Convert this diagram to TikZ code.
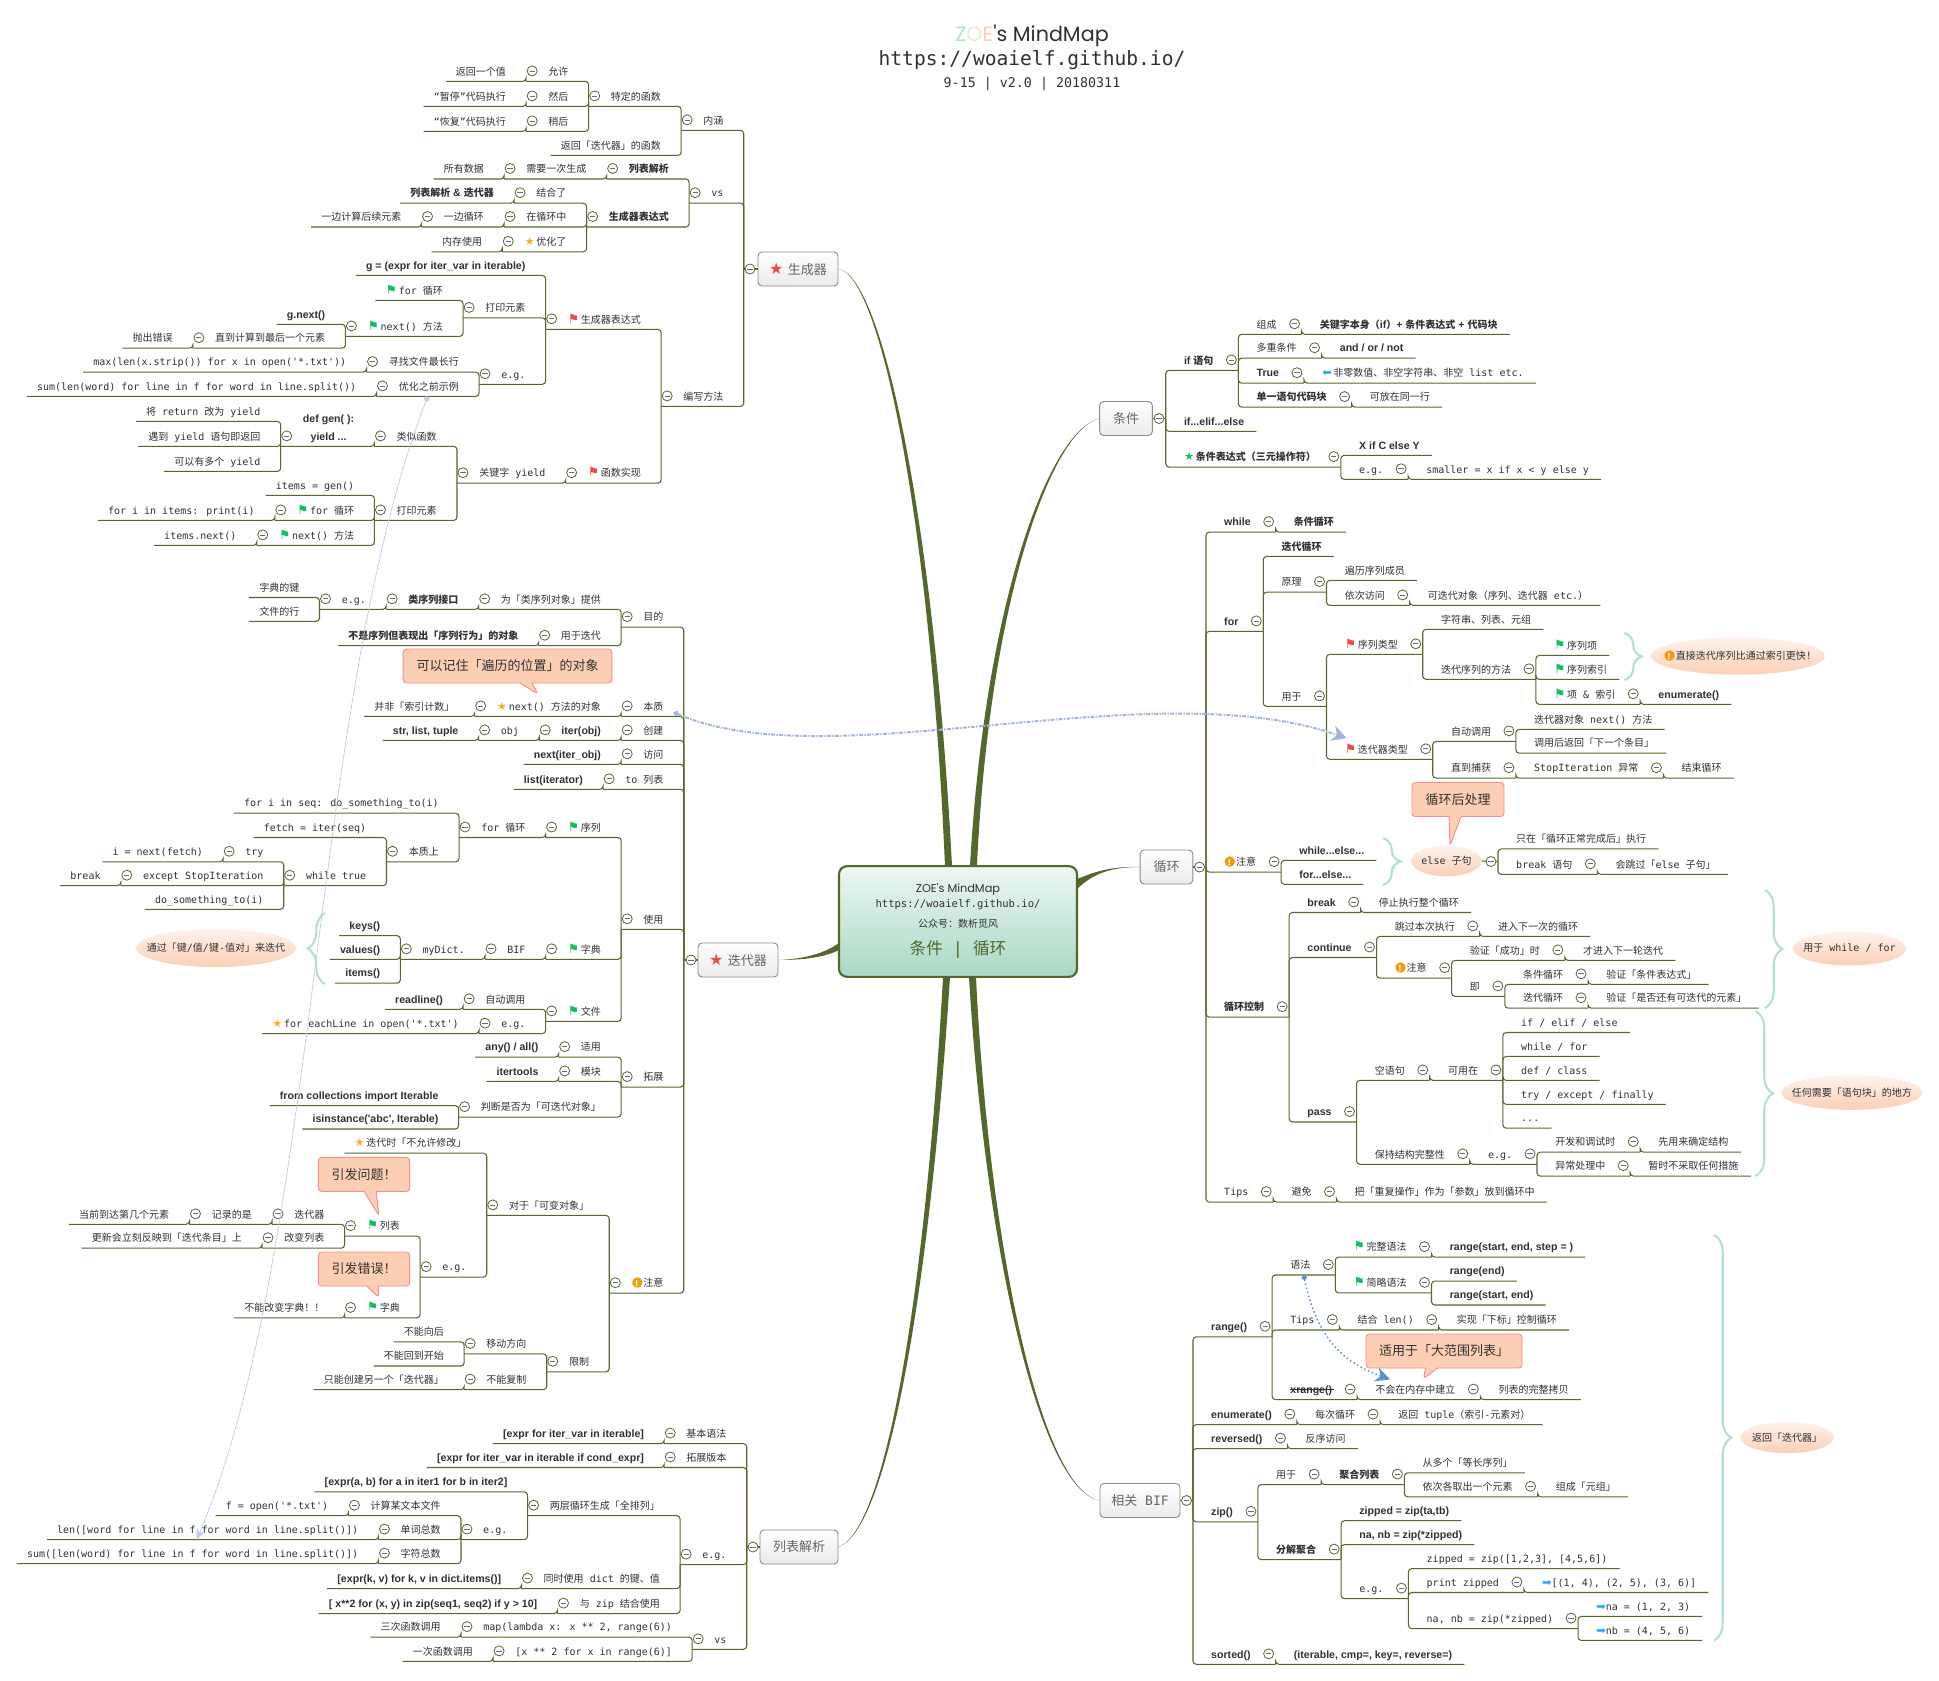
\documentclass[tikz,border=0pt]{standalone}
\usepackage{fontspec}
\usetikzlibrary{calc,shapes.geometric,shapes.callouts,arrows.meta,decorations.pathreplacing}
\setmainfont{DejaVu Sans Mono}[BoldFont={Liberation Sans/B},BoldFeatures={Scale=1.06}]
\newfontfamily\cjkf{Noto Sans CJK SC}
\newfontfamily\symf{DejaVu Sans}
\newfontfamily\titlef{Poppins}
% CJK characters switch font by themselves
\chardef\cjkcl=7
\newcount\chcnt
\chcnt="21 \loop \XeTeXcharclass\chcnt=0 \advance\chcnt by 1 \ifnum\chcnt<"3000 \repeat
\chcnt="3000 \loop \XeTeXcharclass\chcnt=\cjkcl \advance\chcnt by 1 \ifnum\chcnt<"A000 \repeat
\chcnt="FF00 \loop \XeTeXcharclass\chcnt=\cjkcl \advance\chcnt by 1 \ifnum\chcnt<"FFF0 \repeat
\XeTeXinterchartoks 0 \cjkcl = {\cjkf}
\XeTeXinterchartoks 4095 \cjkcl = {\cjkf}
\XeTeXinterchartoks \cjkcl 0 = {\rmfamily}
\XeTeXinterchartoks \cjkcl 4095 = {\rmfamily}
\XeTeXinterchartokenstate=1

\definecolor{linegreen}{HTML}{55682B}
\definecolor{textgray}{HTML}{303030}
\definecolor{flaggreen}{HTML}{10C060}
\definecolor{flagred}{HTML}{F04848}
\definecolor{starorange}{HTML}{F8B030}
\definecolor{warnorange}{HTML}{F59A10}
\definecolor{arrowblue}{HTML}{20AEF0}
\definecolor{bracegreen}{HTML}{B4E0D0}
\definecolor{titlepale}{HTML}{E2EFCF}
\definecolor{peach}{HTML}{FCCFB4}
\definecolor{peachline}{HTML}{F09090}
\definecolor{rootgreen}{HTML}{A8D8C4}
\definecolor{relpale}{HTML}{A3B5DA}
\definecolor{relthin}{HTML}{C0CAE8}
\definecolor{relblue}{HTML}{5A8FD0}

\newcommand{\flagG}{{\color{flaggreen}\symf\fontsize{9.5}{10}\selectfont ⚑}\,}
\newcommand{\flagR}{{\color{flagred}\symf\fontsize{9.5}{10}\selectfont ⚑}\,}
\newcommand{\starO}{{\color{starorange}\symf\fontsize{8.5}{10}\selectfont ★}\,}
\newcommand{\starG}{{\color{flaggreen}\symf\fontsize{8.5}{10}\selectfont ★}\,}
\newcommand{\starR}{{\color{flagred}\symf\fontsize{12}{12}\selectfont ★}\,\,}
\newcommand{\arrR}{{\color{arrowblue}\symf\fontsize{8.5}{9}\selectfont ➡}}
\newcommand{\arrL}{{\color{arrowblue}\symf\fontsize{8.5}{9}\selectfont ⬅}\,}
\newcommand{\warnicon}{{\symf\fontsize{10}{10}\selectfont\rlap{\color{warnorange}●}\makebox[.77em]{\fontsize{6}{6}\selectfont\color{white}\bfseries !}}\,}
\newcommand{\sumtext}[1]{\makebox[0pt][c]{#1}}

\tikzset{
  topic/.style={inner sep=0pt,text height=6.5pt,text depth=4.5pt,text=textgray,font=\fontsize{7.5}{9}\selectfont},
  treelink/.style={draw=linegreen,line width=0.8pt,rounded corners=2.5pt},
  foldmark/.style={circle,draw=linegreen,fill=white,line width=0.6pt,inner sep=0pt,minimum size=7.5pt,
    path picture={\draw[draw=gray!80!blue,line width=0.6pt] ([xshift=1.8pt]path picture bounding box.west) -- ([xshift=-1.8pt]path picture bounding box.east);}},
  trunk/.style={inner sep=0pt,minimum size=0pt},
  branchbox/.style={rectangle,rounded corners=3pt,draw=black!45,line width=0.7pt,top color=white,bottom color=black!8,
    text=black!60,minimum height=25.5pt,inner sep=0pt,font=\fontsize{9.75}{11}\selectfont},
  rootbox/.style={rectangle,rounded corners=6pt,draw=linegreen,line width=1.6pt,top color=rootgreen!20,bottom color=rootgreen,
    minimum width=178.5pt,minimum height=83pt,inner sep=0pt,align=center,text=textgray},
  summary/.style={ellipse,inner sep=0pt,top color=peach!25,bottom color=peach,text=textgray,font=\fontsize{7.5}{9}\selectfont},
  sumbrace/.style={draw=bracegreen,line width=1.6pt,decorate,decoration={brace,amplitude=13pt}},
  note/.style={rectangle callout,rounded corners=2.5pt,draw=peachline,fill=peach,line width=0.7pt,inner sep=0pt,minimum height=25.5pt,
    callout pointer width=9pt,text=textgray,font=\fontsize{9.75}{11}\selectfont},
  rootline/.style={fill=linegreen},
  relink/.style={draw=relpale,line width=1.5pt,dash pattern={on 3pt off 1pt on 1pt off 1pt}},
}

% topics that grow to the left, with or without children
\newcommand{\lfork}[5][]{%
  \node[topic,anchor=south east,#1] (#2) at (#3.south west |- 0,#4) {\hspace*{16.5pt}#5\hspace*{15pt}};
  \node[foldmark] (#2-f) at ($(#2.south west)+(6,-10.5)$) {};
  \draw[treelink] (#2.south west) -- (#2.south east) -- (#3.south west);}
\newcommand{\lleaf}[5][]{%
  \node[topic,anchor=south east,#1] (#2) at (#3.south west |- 0,#4) {\hspace*{7.5pt}#5\hspace*{15pt}};
  \draw[treelink] (#2.south west) -- (#2.south east) -- (#3.south west);}
% topics that grow to the right
\newcommand{\rfork}[5][]{%
  \node[topic,anchor=south west,#1] (#2) at (#3.south east |- 0,#4) {\hspace*{13.5pt}#5\hspace*{18.5pt}};
  \node[foldmark] (#2-f) at ($(#2.south east)+(-7,-10.5)$) {};
  \draw[treelink] (#2.south east) -- (#2.south west) -- (#3.south east);}
\newcommand{\rleaf}[5][]{%
  \node[topic,anchor=south west,#1] (#2) at (#3.south east |- 0,#4) {\hspace*{13.5pt}#5\hspace*{9pt}};
  \draw[treelink] (#2.south east) -- (#2.south west) -- (#3.south east);}

\begin{document}
\begin{tikzpicture}[x=0.75pt,y=0.75pt,yscale=-1,xscale=1]
\useasboundingbox (0,0) rectangle (1939,1681);

% Text Node
\node[text=textgray,font=\titlef\fontsize{15.5}{18}\selectfont] (title1) at (1032,35.5) {{\color{bracegreen}Z}{\color{titlepale}O}{\color{peach}E}'s MindMap};
\node[text=textgray,font=\fontsize{14.7}{18}\selectfont] (title2) at (1032,60.5) {https://woaielf.github.io/};
\node[text=textgray,font=\fontsize{10}{12}\selectfont] (title3) at (1032,83.5) {9-15 | v2.0 | 20180311};

%Shape: Rectangle
\node[rootbox] (root) at (958,921.5) {};
\node[text=textgray,font=\titlef\fontsize{8.5}{10}\selectfont] (root1) at (958,889) {ZOE's MindMap};
\node[text=textgray,font=\fontsize{7.9}{10}\selectfont] (root2) at (958,905) {https://woaielf.github.io/};
\node[text=textgray,font=\fontsize{7.5}{10}\selectfont] (root3) at (958,924) {公众号：数析觅风};
\node[text=linegreen,font=\fontsize{12.5}{15}\selectfont] (root4) at (958,949) {条件 | 循环};

\node[branchbox,minimum width=60pt] (gen) at (798,269) {\starR 生成器};
\node[branchbox,minimum width=60pt] (iter) at (738,960) {\starR 迭代器};
\node[branchbox,minimum width=58.5pt] (lcomp) at (799,1547) {列表解析};
\node[branchbox,minimum width=39.5pt] (cond) at (1126,418.5) {条件};
\node[branchbox,minimum width=39.5pt] (loop) at (1166.5,867) {循环};
\node[branchbox,minimum width=60pt] (bif) at (1140,1500.5) {相关 BIF};

%Straight Lines
\fill[rootline] (gen.east) .. controls (880,275) and (930,520) .. (945,866) -- (952,866) .. controls (934,520) and (882,275) .. (gen.east) -- cycle;
\fill[rootline] (iter.east) .. controls (805,959) and (825,953) .. (839,943) -- (839,950) .. controls (825,957) and (805,960) .. (iter.east) -- cycle;
\fill[rootline] (lcomp.east) .. controls (885,1530) and (925,1300) .. (943,977) -- (950,977) .. controls (929,1300) and (887,1530) .. (lcomp.east) -- cycle;
\fill[rootline] (cond.west) .. controls (1050,430) and (985,600) .. (970,866) -- (977,866) .. controls (989,600) and (1052,430) .. (cond.west) -- cycle;
\fill[rootline] (loop.west) .. controls (1105,866) and (1088,875) .. (1077,879) -- (1077,889) .. controls (1090,877) and (1105,867) .. (loop.west) -- cycle;
\fill[rootline] (bif.west) .. controls (1040,1490) and (985,1250) .. (969,977) -- (976,977) .. controls (989,1250) and (1042,1490) .. (bif.west) -- cycle;

\node[trunk] (gen-t) at (744,269) {};
\node[trunk] (iter-t) at (684,960) {};
\node[trunk] (lcomp-t) at (747,1547) {};
\node[trunk] (cond-t) at (1165.5,418.5) {};
\node[trunk] (loop-t) at (1205.7,867) {};
\node[trunk] (bif-t) at (1192.7,1500.5) {};
\draw[treelink] (gen.west) -- (gen-t);
\draw[treelink] (iter.west) -- (iter-t);
\draw[treelink] (lcomp.west) -- (lcomp-t);
\draw[treelink] (cond.east) -- (cond-t);
\draw[treelink] (loop.east) -- (loop-t);
\draw[treelink] (bif.east) -- (bif-t);
\node[foldmark] (gen-f) at (750,269) {};
\node[foldmark] (iter-f) at (691,960) {};
\node[foldmark] (lcomp-f) at (753,1547) {};
\node[foldmark] (cond-f) at (1159,418.5) {};
\node[foldmark] (loop-f) at (1199.5,867) {};
\node[foldmark] (bif-f) at (1186.5,1500.5) {};

% generator
\lfork{inner}{gen-t}{130.4}{内涵}
\lfork{special}{inner}{106.4}{特定的函数}
\lfork{allow}{special}{81.4}{允许}
\lleaf{retval}{allow}{81.4}{返回一个值}
\lfork{thenn}{special}{106.4}{然后}
\lleaf{pause}{thenn}{106.4}{“暂停”代码执行}
\lfork{later}{special}{131.4}{稍后}
\lleaf{resume}{later}{131.4}{“恢复”代码执行}
\lleaf{retiter}{inner}{155.4}{返回「迭代器」的函数}
\lfork{gvs}{gen-t}{203.2}{vs}
\lfork{vslist}{gvs}{179}{\textbf{列表解析}}
\lfork{once}{vslist}{179}{需要一次生成}
\lleaf{alldata}{once}{179}{所有数据}
\lfork{vsgen}{gvs}{227}{\textbf{生成器表达式}}
\lfork{combine}{vsgen}{203.2}{结合了}
\lleaf{listiter}{combine}{203.2}{\textbf{列表解析 \& 迭代器}}
\lfork{inloop}{vsgen}{227}{在循环中}
\lfork{sideloop}{inloop}{227}{一边循环}
\lleaf{sidecalc}{sideloop}{227}{一边计算后续元素}
\lfork{optim}{vsgen}{251.8}{\starO 优化了}
\lleaf{memuse}{optim}{251.8}{内存使用}
\lfork{howto}{gen-t}{406.4}{编写方法}
\lfork{genexp}{howto}{329.3}{\flagR 生成器表达式}
\lleaf{gform}{genexp}{275.4}{\textbf{g = (expr for iter\_var in iterable)}}
\lfork{gprint}{genexp}{317.9}{打印元素}
\lleaf{gfor}{gprint}{300.4}{\flagG for 循环}
\lfork{gnextm}{gprint}{336.4}{\flagG next() 方法}
\lleaf{gnext}{gnextm}{324.3}{\textbf{g.next()}}
\lfork{tolast}{gnextm}{348.2}{直到计算到最后一个元素}
\lleaf{raiseerr}{tolast}{348.2}{抛出错误}
\lfork{geg}{genexp}{384.3}{e.g.}
\lfork{longest}{geg}{372.1}{寻找文件最长行}
\lleaf{maxline}{longest}{372.1}{max(len(x.strip()) for x in open(\textquotesingle*.txt\textquotesingle))}
\lfork{optprev}{geg}{396.4}{优化之前示例}
\lleaf{sumword}{optprev}{396.4}{sum(len(word) for line in f for word in line.split())}
\lfork{funcimp}{howto}{483.2}{\flagR 函数实现}
\lfork{yieldkw}{funcimp}{483.2}{关键字 yield}
\lfork{likefunc}{yieldkw}{446.4}{类似函数}
\lfork{defgen}{likefunc}{446.4}{\textbf{\shortstack{def gen( ):\\[2.5pt]yield ...}}}
\lleaf{retyield}{defgen}{421.4}{将 return 改为 yield}
\lleaf{meetyield}{defgen}{446.4}{遇到 yield 语句即返回}
\lleaf{manyyield}{defgen}{471.4}{可以有多个 yield}
\lfork{yprint}{yieldkw}{520.4}{打印元素}
\lleaf{itemsgen}{yprint}{495.4}{items = gen()}
\lfork{yfor}{yprint}{520.4}{\flagG for 循环}
\lleaf{forprint}{yfor}{520.4}{for i in items: print(i)}
\lfork{ynextm}{yprint}{545.4}{\flagG next() 方法}
\lleaf{itemsnext}{ynextm}{545.4}{items.next()}

% iterator
\lfork{goal}{iter-t}{627.1}{目的}
\lfork{provide}{goal}{609.3}{为「类序列对象」提供}
\lfork{seqif}{provide}{609.3}{\textbf{类序列接口}}
\lfork{goaleg}{seqif}{609.3}{e.g.}
\lleaf{dictkey}{goaleg}{597.5}{字典的键}
\lleaf{fileline}{goaleg}{621.4}{文件的行}
\lfork{foriter}{goal}{645.7}{用于迭代}
\lleaf{notseq}{foriter}{645.7}{\textbf{不是序列但表现出「序列行为」的对象}}
\lfork{ess}{iter-t}{716.4}{本质}
\lfork{nextobj}{ess}{716.4}{\starO next() 方法的对象}
\lleaf{notindex}{nextobj}{716.4}{并非「索引计数」}
\lfork{create}{iter-t}{740.4}{创建}
\lfork{iterobj}{create}{740.4}{\textbf{iter(obj)}}
\lfork{objj}{iterobj}{740.4}{obj}
\lleaf{strlist}{objj}{740.4}{\textbf{str, list, tuple}}
\lfork{visit}{iter-t}{764.3}{访问}
\lleaf{nextiter}{visit}{764.3}{\textbf{next(iter\_obj)}}
\lfork{tolist}{iter-t}{789.3}{to 列表}
\lleaf{listiterr}{tolist}{789.3}{\textbf{list(iterator)}}
\lfork{usage}{iter-t}{929.3}{使用}
\lfork{useseq}{usage}{837.5}{\flagG 序列}
\lfork{forloop}{useseq}{837.5}{for 循环}
\lleaf{forseq}{forloop}{813.2}{for i in seq: do\_something\_to(i)}
\lfork{essen}{forloop}{861.8}{本质上}
\lleaf{fetchit}{essen}{837.5}{fetch = iter(seq)}
\lfork{whiletrue}{essen}{885.7}{while true}
\lfork{tryy}{whiletrue}{861.8}{try}
\lleaf{nextfetch}{tryy}{861.8}{i = next(fetch)}
\lfork{exceptt}{whiletrue}{885.7}{except StopIteration}
\lleaf{breakk}{exceptt}{885.7}{break}
\lleaf{dosome}{whiletrue}{909.3}{do\_something\_to(i)}
\lfork{usedict}{usage}{959.3}{\flagG 字典}
\lfork{bifb}{usedict}{959.3}{BIF}
\lfork{mydict}{bifb}{959.3}{myDict.}
\lleaf{keyss}{mydict}{935.7}{\textbf{keys()}}
\lleaf{valuess}{mydict}{959.3}{\textbf{values()}}
\lleaf{itemss}{mydict}{983.2}{\textbf{items()}}
\lfork{usefile}{usage}{1021.4}{\flagG 文件}
\lfork{autocall}{usefile}{1009.3}{自动调用}
\lleaf{readl}{autocall}{1009.3}{\textbf{readline()}}
\lfork{fileeg}{usefile}{1033.6}{e.g.}
\lleaf{eachline}{fileeg}{1033.6}{\starO for eachLine in open(\textquotesingle*.txt\textquotesingle)}
\lfork{extend}{iter-t}{1087.1}{拓展}
\lfork{apply}{extend}{1057.1}{适用}
\lleaf{anyall}{apply}{1057.1}{\textbf{any() / all()}}
\lfork{modul}{extend}{1081.4}{模块}
\lleaf{itertoolss}{modul}{1081.4}{\textbf{itertools}}
\lfork{judge}{extend}{1117.1}{判断是否为「可迭代对象」}
\lleaf{fromcol}{judge}{1105.7}{\textbf{from collections import Iterable}}
\lleaf{isinst}{judge}{1129}{\textbf{isinstance(\textquotesingle abc\textquotesingle, Iterable)}}
\lfork{attn}{iter-t}{1293.2}{\warnicon 注意}
\lfork{mutable}{attn}{1215.4}{对于「可变对象」}
\lleaf{nomodify}{mutable}{1153.2}{\starO 迭代时「不允许修改」}
\lfork{muteg}{mutable}{1277.1}{e.g.}
\lfork{mlist}{muteg}{1236.1}{\flagG 列表}
\lfork{iterr}{mlist}{1224.3}{迭代器}
\lfork{record}{iterr}{1224.3}{记录的是}
\lleaf{curpos}{record}{1224.3}{当前到达第几个元素}
\lfork{change}{mlist}{1248.2}{改变列表}
\lleaf{reflect}{change}{1248.2}{更新会立刻反映到「迭代条目」上}
\lfork{mdict}{muteg}{1317.9}{\flagG 字典}
\lleaf{nochange}{mdict}{1317.9}{不能改变字典！！}
\lfork{limit}{attn}{1371.8}{限制}
\lfork{movedir}{limit}{1353.9}{移动方向}
\lleaf{noback}{movedir}{1341.8}{不能向后}
\lleaf{nostart}{movedir}{1366}{不能回到开始}
\lfork{nocopy}{limit}{1389.6}{不能复制}
\lleaf{onlynew}{nocopy}{1389.6}{只能创建另一个「迭代器」}

% list comprehension
\lfork{basic}{lcomp-t}{1443.6}{基本语法}
\lleaf{basicx}{basic}{1443.6}{\textbf{[expr for iter\_var in iterable]}}
\lfork{extv}{lcomp-t}{1467.5}{拓展版本}
\lleaf{extx}{extv}{1467.5}{\textbf{[expr for iter\_var in iterable if cond\_expr]}}
\lfork{lceg}{lcomp-t}{1564.6}{e.g.}
\lfork{twoloop}{lceg}{1515.7}{两层循环生成「全排列」}
\lleaf{twox}{twoloop}{1491.8}{\textbf{[expr(a, b) for a in iter1 for b in iter2]}}
\lfork{twoeg}{twoloop}{1539.6}{e.g.}
\lfork{count}{twoeg}{1515.7}{计算某文本文件}
\lleaf{fopen}{count}{1515.7}{f = open(\textquotesingle*.txt\textquotesingle)}
\lfork{wcount}{twoeg}{1539.6}{单词总数}
\lleaf{lenword}{wcount}{1539.6}{len([word for line in f for word in line.split()])}
\lfork{ccount}{twoeg}{1563.6}{字符总数}
\lleaf{sumlen}{ccount}{1563.6}{sum([len(word) for line in f for word in line.split()])}
\lfork{dictkv}{lceg}{1588.6}{同时使用 dict 的键、值}
\lleaf{dictx}{dictkv}{1588.6}{\textbf{[expr(k, v) for k, v in dict.items()]}}
\lfork{zipuse}{lceg}{1613.6}{与 zip 结合使用}
\lleaf{zipx}{zipuse}{1613.6}{\textbf{[ x**2 for (x, y) in zip(seq1, seq2) if y > 10]}}
\lfork{lcvs}{lcomp-t}{1649.3}{vs}
\lfork{mapl}{lcvs}{1637.1}{map(lambda x: x ** 2, range(6))}
\lleaf{threecall}{mapl}{1637.1}{三次函数调用}
\lfork{listc}{lcvs}{1661.4}{[x ** 2 for x in range(6)]}
\lleaf{onecall}{listc}{1661.4}{一次函数调用}

% condition
\rfork{ifst}{cond-t}{370.4}{\textbf{if 语句}}
\rfork{compo}{ifst}{334.3}{组成}
\rleaf{keywords}{compo}{334.3}{\textbf{关键字本身（if）+ 条件表达式 + 代码块}}
\rfork{multi}{ifst}{358.2}{多重条件}
\rleaf{andor}{multi}{358.2}{\textbf{and / or / not}}
\rfork{truee}{ifst}{383.2}{\textbf{True}}
\rleaf{nonzero}{truee}{383.2}{\arrL 非零数值、非空字符串、非空 list etc.}
\rfork{single}{ifst}{407.1}{\textbf{单一语句代码块}}
\rleaf{oneline}{single}{407.1}{可放在同一行}
\rleaf{ifelif}{cond-t}{431.4}{\textbf{if...elif...else}}
\rfork{ternary}{cond-t}{467.1}{\starG\textbf{条件表达式（三元操作符）}}
\rleaf{xify}{ternary}{455.4}{\textbf{X if C else Y}}
\rfork{terneg}{ternary}{479.3}{e.g.}
\rleaf{smaller}{terneg}{479.3}{smaller = x if x < y else y}

% loop
\rfork{whilel}{loop-t}{532.1}{\textbf{while}}
\rleaf{condloop}{whilel}{532.1}{\textbf{条件循环}}
\rfork{forl}{loop-t}{631.4}{\textbf{for}}
\rleaf{iterloop}{forl}{556.4}{\textbf{迭代循环}}
\rfork{princ}{forl}{592.1}{原理}
\rleaf{traverse}{princ}{580.4}{遍历序列成员}
\rfork{inorder}{princ}{605.4}{依次访问}
\rleaf{iterable}{inorder}{605.4}{可迭代对象（序列、迭代器 etc.）}
\rfork{usedin}{forl}{706.4}{用于}
\rfork{seqtype}{usedin}{654.3}{\flagR 序列类型}
\rleaf{strtuple}{seqtype}{629.3}{字符串、列表、元组}
\rfork{seqway}{seqtype}{679.3}{迭代序列的方法}
\rleaf{seqitem}{seqway}{655.4}{\flagG 序列项}
\rleaf{seqidx}{seqway}{679.3}{\flagG 序列索引}
\rfork{itemidx}{seqway}{704.3}{\flagG 项 \& 索引}
\rleaf{enumer}{itemidx}{704.3}{\textbf{enumerate()}}
\rfork{ittype}{usedin}{759.3}{\flagR 迭代器类型}
\rfork{autoc}{ittype}{741.4}{自动调用}
\rleaf{itnext}{autoc}{729.3}{迭代器对象 next() 方法}
\rleaf{retnext}{autoc}{753.2}{调用后返回「下一个条目」}
\rfork{catch}{ittype}{778.2}{直到捕获}
\rfork{stopit}{catch}{778.2}{StopIteration 异常}
\rleaf{endloop}{stopit}{778.2}{结束循环}
\rfork{lattn}{loop-t}{872.1}{\warnicon 注意}
\rleaf{whileelse}{lattn}{860.4}{\textbf{while...else...}}
\rleaf{forelse}{lattn}{884.3}{\textbf{for...else...}}
\rfork{ctrl}{loop-t}{1017.1}{\textbf{循环控制}}
\rfork{brk}{ctrl}{912.5}{\textbf{break}}
\rleaf{stopall}{brk}{912.5}{停止执行整个循环}
\rfork{cont}{ctrl}{957.5}{\textbf{continue}}
\rfork{skipthis}{cont}{936.4}{跳过本次执行}
\rleaf{nextround}{skipthis}{936.4}{进入下一次的循环}
\rfork{cattn}{cont}{978.2}{\warnicon 注意}
\rfork{verify}{cattn}{960.4}{验证「成功」时}
\rleaf{nextiterr}{verify}{960.4}{才进入下一轮迭代}
\rfork{namely}{cattn}{996.4}{即}
\rfork{condl}{namely}{984.3}{条件循环}
\rleaf{vcond}{condl}{984.3}{验证「条件表达式」}
\rfork{iterl}{namely}{1008.2}{迭代循环}
\rleaf{vmore}{iterl}{1008.2}{验证「是否还有可迭代的元素」}
\rfork{passs}{ctrl}{1122}{\textbf{pass}}
\rfork{emptyst}{passs}{1080.4}{空语句}
\rfork{usable}{emptyst}{1080.4}{可用在}
\rleaf{ifel}{usable}{1032.5}{if / elif / else}
\rleaf{whfor}{usable}{1056.4}{while / for}
\rleaf{defcl}{usable}{1080.4}{def / class}
\rleaf{tryex}{usable}{1104.3}{try / except / finally}
\rleaf{dots}{usable}{1128.2}{...}
\rfork{keepst}{passs}{1164.3}{保持结构完整性}
\rfork{keepeg}{keepst}{1164.3}{e.g.}
\rfork{devtest}{keepeg}{1152.1}{开发和调试时}
\rleaf{firstuse}{devtest}{1152.1}{先用来确定结构}
\rfork{excpt}{keepeg}{1176.1}{异常处理中}
\rleaf{noact}{excpt}{1176.1}{暂时不采取任何措施}
\rfork{tips}{loop-t}{1202.1}{Tips}
\rfork{avoid}{tips}{1202.1}{避免}
\rleaf{repeatop}{avoid}{1202.1}{把「重复操作」作为「参数」放到循环中}

% related BIF
\rfork{rangef}{bif-t}{1336.8}{\textbf{range()}}
\rfork{syntax}{rangef}{1275}{语法}
\rfork{fullsyn}{syntax}{1257.1}{\flagG 完整语法}
\rleaf{rangefull}{fullsyn}{1257.1}{\textbf{range(start, end, step = )}}
\rfork{shortsyn}{syntax}{1292.9}{\flagG 简略语法}
\rleaf{rangeend}{shortsyn}{1281.1}{\textbf{range(end)}}
\rleaf{rangese}{shortsyn}{1305}{\textbf{range(start, end)}}
\rfork{rtips}{rangef}{1330}{Tips}
\rfork{withlen}{rtips}{1330}{结合 len()}
\rleaf{subscr}{withlen}{1330}{实现「下标」控制循环}
\rfork{xrangef}{rangef}{1399.6}{\rlap{\rule[2.6pt]{33pt}{0.6pt}}\textbf{xrange()}}
\rfork{nomem}{xrangef}{1399.6}{不会在内存中建立}
\rleaf{fullcopy}{nomem}{1399.6}{列表的完整拷贝}
\rfork{enumf}{bif-t}{1424.6}{\textbf{enumerate()}}
\rfork{eachloop}{enumf}{1424.6}{每次循环}
\rleaf{rettuple}{eachloop}{1424.6}{返回 tuple（索引-元素对）}
\rfork{reversedf}{bif-t}{1448.6}{\textbf{reversed()}}
\rleaf{revvisit}{reversedf}{1448.6}{反序访问}
\rfork{zipf}{bif-t}{1521.8}{\textbf{zip()}}
\rfork{zipfor}{zipf}{1484.6}{用于}
\rfork{aggr}{zipfor}{1484.6}{\textbf{聚合列表}}
\rleaf{eqlen}{aggr}{1472.9}{从多个「等长序列」}
\rfork{takeone}{aggr}{1496.8}{依次各取出一个元素}
\rleaf{formtuple}{takeone}{1496.8}{组成「元组」}
\rfork{unzipp}{zipf}{1559.6}{\textbf{分解聚合}}
\rleaf{zipta}{unzipp}{1520.7}{\textbf{zipped = zip(ta,tb)}}
\rleaf{unzipb}{unzipp}{1544.6}{\textbf{na, nb = zip(*zipped)}}
\rfork{zipeg}{unzipp}{1598.6}{e.g.}
\rleaf{zippedl}{zipeg}{1568.6}{zipped = zip([1,2,3], [4,5,6])}
\rfork{printz}{zipeg}{1592.5}{print zipped}
\rleaf{resultz}{printz}{1592.5}{\arrR [(1, 4), (2, 5), (3, 6)]}
\rfork{nanb}{zipeg}{1628.6}{na, nb = zip(*zipped)}
\rleaf{naval}{nanb}{1616.4}{\arrR na = (1, 2, 3)}
\rleaf{nbval}{nanb}{1640.4}{\arrR nb = (4, 5, 6)}
\rfork{sortedf}{bif-t}{1664.3}{\textbf{sorted()}}
\rleaf{sortargs}{sortedf}{1664.3}{\textbf{(iterable, cmp=, key=, reverse=)}}

% summaries
\node[summary,minimum width=120pt,minimum height=28.5pt] (sumkeys) at (216,948) {\sumtext{通过「键/值/键-值对」来迭代}};
\node[summary,minimum width=130.5pt,minimum height=28pt] (sumfast) at (1737.8,656) {\sumtext{\warnicon 直接迭代序列比通过索引更快!}};
\node[summary,minimum width=53pt,minimum height=23pt] (sumelse) at (1446.5,861) {\sumtext{else 子句}};
\node[summary,minimum width=85pt,minimum height=25.5pt] (sumwhile) at (1849.5,948.5) {\sumtext{用于 while / for}};
\node[summary,minimum width=106pt,minimum height=26pt] (sumblock) at (1851.8,1092.5) {\sumtext{任何需要「语句块」的地方}};
\node[summary,minimum width=70pt,minimum height=23.5pt] (sumiter) at (1787,1437.5) {\sumtext{返回「迭代器」}};
\draw[sumbrace] (325,984) -- (325,913);
\draw[sumbrace] (1624.5,633) -- (1624.5,680);
\draw[sumbrace] (1383,838) -- (1383,885);
\draw[sumbrace] (1765,890) -- (1765,1008);
\draw[sumbrace] (1755.6,1011) -- (1755.6,1176);
\draw[sumbrace] (1714,1235) -- (1714,1640.4);

\node[trunk] (sumelse-t) at (1497.7,861.5) {};
\draw[treelink] (sumelse.east) -- (sumelse-t);
\node[foldmark] (sumelse-f) at (1491,861.5) {};
\rleaf{onlyafter}{sumelse-t}{848.9}{只在「循环正常完成后」执行}
\rfork{breakst}{sumelse-t}{874.3}{break 语句}
\rleaf{skipelse}{breakst}{874.3}{会跳过「else 子句」}

% notes
\node[note,minimum width=156.5pt,callout absolute pointer={(538,694)}] (note1) at (507.5,666) {可以记住「遍历的位置」的对象};
\node[note,minimum width=68.5pt,callout absolute pointer={(379,1215.7)}] (note2) at (364,1174.4) {引发问题！};
\node[note,minimum width=68.5pt,callout absolute pointer={(378.6,1297.5)}] (note3) at (364,1269) {引发错误！};
\node[note,minimum width=69pt,callout absolute pointer={(1450,845.7)}] (note4) at (1458,799.5) {循环后处理};
\node[note,minimum width=117pt,callout absolute pointer={(1423.4,1379)}] (note5) at (1444,1351) {适用于「大范围列表」};

% relations
\draw[relink,{Circle[length=4pt]}-{Stealth[length=11pt,width=12pt,inset=3.5pt]}] ([shift={(-10,-4)}]ess.south east) .. controls (830,780) and (1150,670) .. ([shift={(20,-6)}]ittype.north west);
\draw[draw=relthin,line width=0.6pt,dash pattern={on 4pt off 0.6pt},{Circle[length=4pt]}-{Stealth[length=8pt,width=7pt]}] (optprev.south) .. controls (310,700) and (320,1250) .. ([xshift=-12]lenword.south);
\draw[draw=relblue,line width=1.1pt,dotted,{Circle[length=4pt]}-{Stealth[length=11pt,width=11pt,inset=3.5pt]}] (syntax.south) .. controls (1318,1345) and (1350,1365) .. ([shift={(33,-5)}]nomem.north west);

\end{tikzpicture}
\end{document}
